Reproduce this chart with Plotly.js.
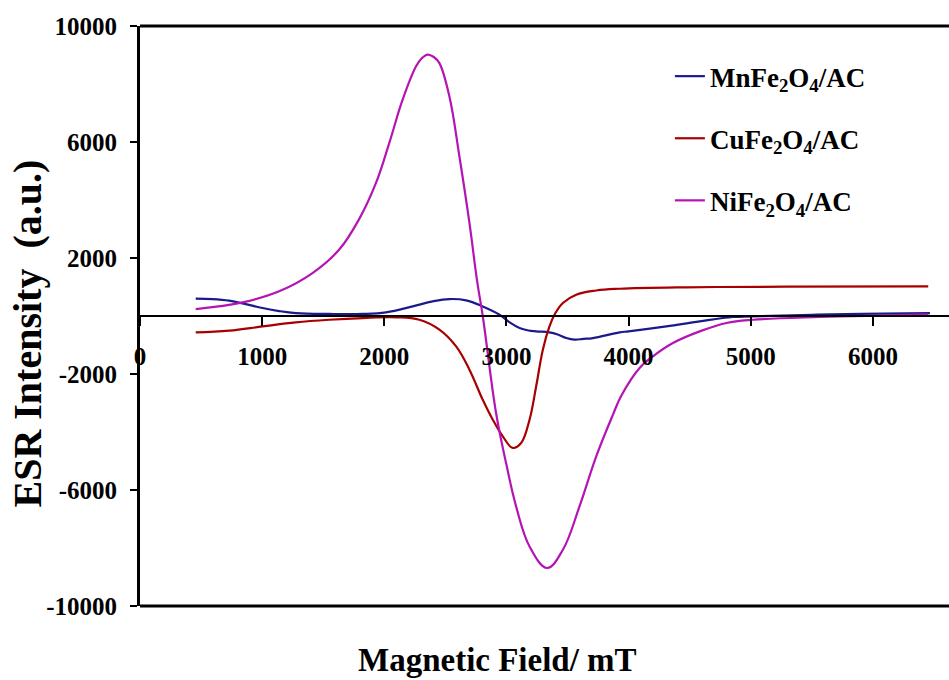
<!DOCTYPE html>
<html>
<head>
<meta charset="utf-8">
<script src="https://cdn.plot.ly/plotly-3.0.1.min.js"></script>
<style>html,body{margin:0;padding:0;background:#fff;}#chart{width:949px;height:680px;}</style>
</head>
<body>
<div id="chart"></div>
<script>
// Magnetic field (mT) and ESR intensity (a.u.)
const mnField = [456, 593, 730, 866, 1003, 1139, 1276, 1549, 1822, 2014, 2232, 2396, 2533, 2670, 2806, 2943, 3030, 3107, 3180, 3243, 3352, 3420, 3490, 3557, 3630, 3708, 3926, 4000, 4309, 4582, 4855, 5005, 5538, 6085, 6467];
const mnIntensity = [600, 585, 530, 410, 275, 170, 100, 70, 70, 125, 330, 505, 585, 540, 330, 45, -230, -415, -500, -530, -565, -640, -760, -815, -790, -760, -565, -530, -360, -185, -35, -15, 45, 80, 100];

const cuField = [456, 730, 1003, 1276, 1549, 1822, 2096, 2287, 2451, 2588, 2697, 2806, 2888, 2970, 3052, 3120, 3189, 3243, 3298, 3352, 3393, 3462, 3571, 3735, 3926, 4473, 5292, 6453];
const cuIntensity = [-565, -505, -360, -220, -130, -70, -45, -130, -470, -1050, -1850, -2890, -3575, -4150, -4550, -4380, -3575, -2430, -1160, -360, 45, 450, 735, 880, 940, 990, 1010, 1020];

const niField = [456, 839, 1139, 1412, 1631, 1795, 1932, 2041, 2150, 2260, 2305, 2355, 2405, 2451, 2533, 2615, 2697, 2760, 2806, 2915, 2997, 3079, 3189, 3333, 3462, 3598, 3735, 3872, 3940, 4090, 4199, 4363, 4582, 4801, 5019, 5566, 6112, 6453];
const niIntensity = [240, 470, 850, 1480, 2290, 3350, 4590, 5970, 7460, 8610, 8880, 9010, 8930, 8720, 7570, 5500, 3210, 1200, 0, -3345, -5070, -6565, -7945, -8690, -8060, -6565, -4840, -3400, -2750, -1790, -1390, -930, -530, -240, -130, -35, 20, 55];

const seriesNames = ['MnFe<sub>2</sub>O<sub>4</sub>/AC', 'CuFe<sub>2</sub>O<sub>4</sub>/AC', 'NiFe<sub>2</sub>O<sub>4</sub>/AC'];
const xTicks = [0, 1000, 2000, 3000, 4000, 5000, 6000];
const yTicks = [-10000, -6000, -2000, 2000, 6000, 10000];

const fontFam = '"Liberation Serif", "Times New Roman", serif';

const traces = [
  {x: mnField, y: mnIntensity, name: seriesNames[0], legendgroup: 'a', mode: 'lines',
   line: {color: '#1a1a8c', width: 2.2, shape: 'spline', smoothing: 1.1}},
  {x: cuField, y: cuIntensity, name: seriesNames[1], legendgroup: 'b', mode: 'lines',
   line: {color: '#a80000', width: 2.2, shape: 'spline', smoothing: 1.1}},
  {x: niField, y: niIntensity, name: seriesNames[2], legendgroup: 'c', mode: 'lines',
   line: {color: '#b414b4', width: 2.2, shape: 'spline', smoothing: 1.1}}
];

const layout = {
  width: 949, height: 680,
  margin: {l: 140, r: 0, t: 26, b: 74, pad: 0},
  paper_bgcolor: '#fff', plot_bgcolor: '#fff',
  font: {family: fontFam, weight: 'bold', color: '#000', size: 24},
  showlegend: true,
  legend: {x: 0.655, y: 0.955, xanchor: 'left', yanchor: 'top',
    font: {family: fontFam, size: 27, weight: 'bold', color: '#000'},
    bgcolor: 'rgba(0,0,0,0)', tracegroupgap: 24, itemwidth: 30},
  xaxis: {range: [0, 6623], anchor: 'free', position: 0.5,
    showline: true, linecolor: '#000', linewidth: 2,
    ticks: 'outside', ticklen: 9, tickwidth: 2, tickcolor: '#000',
    tickvals: xTicks, ticktext: xTicks.map(String),
    tickfont: {family: fontFam, size: 25, weight: 'bold', color: '#000'},
    ticklabelstandoff: 9,
    showgrid: false, zeroline: false},
  yaxis: {range: [-10000, 10000],
    showline: true, linecolor: '#000', linewidth: 3,
    ticks: 'outside', ticklen: 7, tickwidth: 2, tickcolor: '#000',
    tickvals: yTicks, ticktext: yTicks.map(String),
    tickfont: {family: fontFam, size: 25, weight: 'bold', color: '#000'},
    ticklabelstandoff: 8,
    showgrid: false, zeroline: false},
  shapes: [
    {type: 'line', xref: 'paper', yref: 'paper', x0: 0, x1: 1, y0: 1, y1: 1, line: {color: '#000', width: 3}},
    {type: 'line', xref: 'paper', yref: 'paper', x0: 0, x1: 1, y0: 0, y1: 0, line: {color: '#000', width: 3}}
  ],
  annotations: [
    {text: 'Magnetic Field/ mT', xref: 'paper', yref: 'paper', x: 0.4425, y: -0.093,
     xanchor: 'center', yanchor: 'middle', showarrow: false,
     font: {family: fontFam, size: 33, weight: 'bold', color: '#000'}},
    {text: 'ESR Intensity  (a.u.)', xref: 'paper', yref: 'paper', x: -0.139, y: 0.469,
     xanchor: 'center', yanchor: 'middle', showarrow: false, textangle: -90,
     font: {family: fontFam, size: 40, weight: 'bold', color: '#000'}}
  ]
};

Plotly.newPlot('chart', traces, layout, {displayModeBar: false, responsive: false});
</script>
</body>
</html>
